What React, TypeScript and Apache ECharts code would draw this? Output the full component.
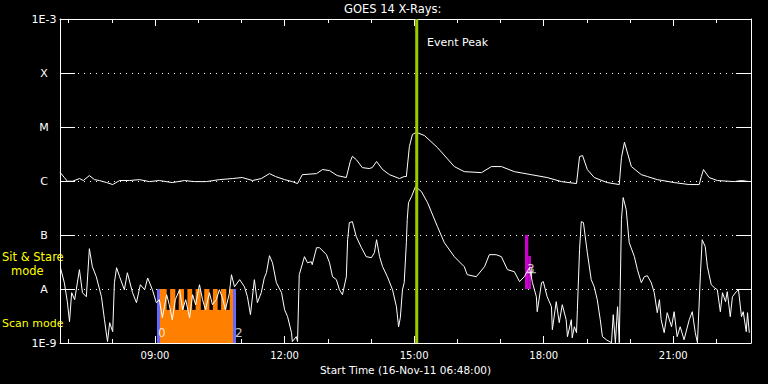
import React, { useEffect, useRef } from 'react';
import * as echarts from 'echarts';

// time axis in decimal hours of 16-Nov-2011
const startHour = 6.8;
const endHour = 22.8;
const majorHourTicks = [9, 12, 15, 18, 21];
const minorHourTicks = [7, 8, 10, 11, 13, 14, 16, 17, 19, 20, 22];
const yTickLabels = ['1E-9', 'A', 'B', 'C', 'M', 'X', '1E-3'];
const yMin = 1e-9;
const yMax = 1e-3;

// GOES 14 long channel (1-8 A), W/m^2
const longChannel: [number, number][] = [
  [6.80, 1.45e-6], [6.90, 1.16e-6], [6.97, 0.99e-6], [7.09, 0.99e-6], [7.25, 1.11e-6], [7.34, 1.02e-6],
  [7.48, 1.26e-6], [7.60, 1.06e-6], [7.71, 1.02e-6], [7.88, 9.35e-7], [8.02, 8.59e-7], [8.18, 1.02e-6],
  [8.41, 1.02e-6], [8.64, 1.06e-6], [8.87, 9.75e-7], [9.10, 1.02e-6], [9.40, 9.35e-7], [9.68, 1.02e-6],
  [9.91, 9.75e-7], [10.19, 9.75e-7], [10.49, 1.06e-6], [10.79, 1.11e-6], [11.02, 1.16e-6], [11.26, 1.02e-6],
  [11.46, 1.11e-6], [11.65, 1.37e-6], [11.79, 1.21e-6], [12.00, 1.06e-6], [12.18, 9.75e-7], [12.30, 8.96e-7],
  [12.41, 1.31e-6], [12.74, 1.37e-6], [12.88, 1.63e-6], [13.04, 1.56e-6], [13.22, 1.26e-6], [13.43, 1.16e-6],
  [13.52, 2.29e-6], [13.57, 2.87e-6], [13.66, 2.49e-6], [13.80, 1.77e-6], [13.96, 1.70e-6], [14.03, 1.77e-6],
  [14.13, 2.29e-6], [14.27, 1.63e-6], [14.43, 1.31e-6], [14.66, 1.11e-6], [14.77, 1.21e-6], [14.82, 1.21e-6],
  [14.89, 4.34e-6], [14.96, 7.24e-6], [15.05, 7.98e-6], [15.24, 6.94e-6], [15.54, 4.16e-6], [15.93, 1.85e-6],
  [16.16, 1.49e-6], [16.56, 1.43e-6], [16.79, 1.85e-6], [17.02, 1.85e-6], [17.32, 1.49e-6], [17.71, 1.31e-6],
  [18.08, 1.16e-6], [18.41, 9.75e-7], [18.76, 8.96e-7], [18.83, 2.83e-6], [18.90, 2.96e-6], [19.01, 1.63e-6],
  [19.17, 1.16e-6], [19.47, 9.35e-7], [19.75, 8.59e-7], [19.80, 2.71e-6], [19.87, 5.21e-6], [20.03, 1.85e-6],
  [20.26, 1.31e-6], [20.40, 1.21e-6], [20.63, 1.06e-6], [21.02, 9.35e-7], [21.37, 8.59e-7], [21.60, 8.59e-7],
  [21.65, 1.21e-6], [21.70, 1.63e-6], [21.83, 1.16e-6], [22.02, 1.02e-6], [22.41, 9.75e-7], [22.58, 1.02e-6],
  [22.76, 9.75e-7],
];

// GOES 14 short channel (0.5-4 A), W/m^2
const shortChannel: [number, number][] = [
  [6.81, 2.48e-8], [6.90, 1.31e-8], [6.97, 5.82e-9], [7.02, 2.48e-9], [7.07, 8.54e-9], [7.14, 6.34e-9],
  [7.25, 2.28e-8], [7.32, 8.54e-9], [7.41, 7.2e-9], [7.48, 5.58e-8], [7.55, 2.59e-8], [7.64, 1.69e-8],
  [7.76, 7.2e-9], [7.83, 2.7e-9], [7.90, 1.06e-9], [7.95, 2.38e-9], [8.02, 1.62e-9], [8.06, 1.31e-8],
  [8.11, 2.48e-8], [8.18, 1.69e-8], [8.29, 9.68e-9], [8.36, 2.0e-8], [8.48, 8.54e-9], [8.57, 5.58e-9],
  [8.66, 1.2e-8], [8.76, 9.68e-9], [8.83, 1.6e-8], [8.94, 9.68e-9], [9.03, 5.58e-9], [9.10, 6.34e-9],
  [9.17, 2.94e-9], [9.27, 7.85e-9], [9.33, 5.12e-9], [9.40, 2.7e-9], [9.47, 6.34e-9], [9.57, 9.68e-9],
  [9.64, 4.14e-9], [9.71, 6.34e-9], [9.80, 2.94e-9], [9.87, 7.85e-9], [9.94, 5.12e-9], [10.03, 1.2e-8],
  [10.10, 6.34e-9], [10.17, 4.14e-9], [10.26, 8.54e-9], [10.33, 5.12e-9], [10.42, 6.34e-9], [10.49, 9.68e-9],
  [10.56, 6.9e-9], [10.63, 4.14e-9], [10.72, 8.18e-9], [10.77, 1.84e-8], [10.84, 1.1e-8], [10.96, 1.49e-8],
  [11.07, 1.1e-8], [11.14, 7.2e-9], [11.21, 3.34e-9], [11.30, 1.49e-8], [11.37, 5.58e-9], [11.46, 8.54e-9],
  [11.53, 1.6e-8], [11.58, 2.0e-8], [11.65, 4.14e-8], [11.72, 3.07e-8], [11.81, 1.31e-8], [11.93, 8.54e-9],
  [12.00, 4.14e-9], [12.07, 3.07e-9], [12.16, 1.55e-9], [12.18, 1.06e-9], [12.27, 1.31e-9], [12.30, 1.06e-9],
  [12.34, 1.84e-8], [12.46, 3.97e-8], [12.53, 3.07e-8], [12.62, 3.2e-8], [12.64, 2.82e-8], [12.74, 5.82e-8],
  [12.81, 5.82e-8], [12.97, 4.32e-8], [13.04, 3.07e-8], [13.11, 1.69e-8], [13.20, 1.49e-8], [13.27, 9.68e-9],
  [13.34, 7.85e-9], [13.43, 1.69e-8], [13.46, 8.18e-8], [13.50, 1.7e-7], [13.57, 1.77e-7], [13.66, 9.3e-8],
  [13.78, 5.82e-8], [13.89, 3.97e-8], [14.01, 3.8e-8], [14.08, 4.7e-8], [14.13, 8.18e-8], [14.20, 3.97e-8],
  [14.27, 2.59e-8], [14.38, 1.69e-8], [14.50, 9.68e-9], [14.59, 4.7e-9], [14.64, 2.0e-9], [14.68, 2.94e-9],
  [14.73, 9.68e-9], [14.77, 1.31e-8], [14.82, 7.2e-8], [14.84, 1.93e-7], [14.87, 3.98e-7], [14.94, 5.15e-7],
  [15.03, 7.87e-7], [15.17, 6.36e-7], [15.31, 3.98e-7], [15.54, 1.43e-7], [15.70, 7.2e-8], [15.93, 3.97e-8],
  [16.16, 2.59e-8], [16.23, 1.84e-8], [16.44, 1.69e-8], [16.63, 2.59e-8], [16.74, 4.32e-8], [16.90, 4.32e-8],
  [17.02, 3.97e-8], [17.16, 2.28e-8], [17.32, 2.09e-8], [17.44, 1.37e-8], [17.55, 1.69e-8], [17.67, 2.48e-8],
  [17.74, 1.31e-8], [17.83, 7.2e-9], [17.85, 3.8e-9], [17.95, 1.31e-8], [17.99, 1.37e-8], [18.08, 7.2e-9],
  [18.18, 4.7e-9], [18.20, 1.76e-9], [18.29, 5.82e-9], [18.36, 2.38e-9], [18.43, 5.12e-9], [18.52, 2.7e-9],
  [18.55, 1.31e-9], [18.64, 2.7e-9], [18.66, 1.25e-9], [18.71, 2.0e-9], [18.76, 1.55e-9], [18.78, 4.14e-9],
  [18.83, 5.34e-8], [18.87, 1.77e-7], [18.92, 1.7e-7], [19.01, 4.7e-8], [19.10, 1.49e-8], [19.17, 1.1e-8],
  [19.24, 6.34e-9], [19.31, 2.7e-9], [19.36, 1.31e-9], [19.45, 1.15e-9], [19.57, 1.01e-9], [19.61, 3.34e-9],
  [19.66, 1.01e-9], [19.71, 4.7e-9], [19.75, 1.01e-9], [19.80, 1.93e-7], [19.84, 4.93e-7], [19.91, 2.95e-7],
  [19.98, 7.2e-8], [20.10, 3.97e-8], [20.17, 2.28e-8], [20.26, 1.31e-8], [20.33, 1.69e-8], [20.40, 1.76e-8],
  [20.49, 1.31e-8], [20.56, 8.54e-9], [20.63, 3.64e-9], [20.68, 6.34e-9], [20.72, 2.7e-9], [20.79, 1.55e-9],
  [20.86, 3.64e-9], [20.96, 2.0e-9], [21.02, 3.8e-9], [21.09, 1.31e-9], [21.16, 2.0e-9], [21.25, 1.15e-9],
  [21.37, 2.7e-9], [21.44, 3.8e-9], [21.51, 1.55e-9], [21.56, 1.01e-9], [21.63, 2.0e-8], [21.67, 8.18e-8],
  [21.74, 6.08e-8], [21.79, 2.59e-8], [21.88, 1.2e-8], [21.95, 1.06e-8], [22.02, 9.68e-9], [22.09, 3.8e-9],
  [22.14, 8.54e-9], [22.21, 5.82e-9], [22.25, 8.92e-9], [22.32, 3.07e-9], [22.37, 7.2e-9], [22.46, 8.92e-9],
  [22.51, 9.68e-9], [22.58, 3.07e-9], [22.62, 3.8e-9], [22.69, 1.62e-9], [22.72, 3.64e-9], [22.76, 1.55e-9],
];

const eventPeakTime = 15.06;
// scan mode block: [startHour, endHour, lowFlux, highFlux]
const scanModeBlock: [number, number, number, number] = [9.115, 10.806, 1e-9, 1e-8];
const scanModeEdges: [number, number, number, number][] = [
  [9.046, 9.115, 1e-9, 1e-8],
  [10.806, 10.875, 1e-9, 1e-8],
];
const scanGapStarts = [9.27, 9.47, 9.67, 9.86, 10.06, 10.26, 10.45, 10.65];
const scanGapWidth = 0.08;
const scanGapLow = 4.1e-9;
const sitStareBlocks: [number, number, number, number][] = [
  [17.566, 17.643, 1e-8, 1e-7],
  [17.643, 17.705, 1e-8, 4.1e-8],
];
const markerLabels: { name: string; t: number; flux: number }[] = [
  { name: '0', t: 9.16, flux: 1.55e-9 },
  { name: '2', t: 10.94, flux: 1.55e-9 },
  { name: '3', t: 17.7, flux: 2.3e-8 },
];
const markerCrosses: [number, number][] = [
  [17.72, 2.0e-8],
];

const FONT = 'DejaVu Sans';
const WHITE = '#ffffff';

export default function App() {
  const ref = useRef<HTMLDivElement>(null);

  useEffect(() => {
    if (!ref.current) return;
    const chart = echarts.init(ref.current, null, { renderer: 'svg' });

    const rects: any[] = [];
    rects.push({ value: scanModeBlock, itemStyle: { color: '#ff8000' } });
    scanGapStarts.forEach((s) => {
      rects.push({ value: [s, s + scanGapWidth, scanGapLow, 1e-8], itemStyle: { color: '#000000' } });
    });
    scanModeEdges.forEach((e) => rects.push({ value: e, itemStyle: { color: '#6868ff' } }));
    sitStareBlocks.forEach((b) => rects.push({ value: b, itemStyle: { color: '#cc00cc' } }));

    const xBase = {
      type: 'value',
      min: startHour,
      max: endHour,
      gridIndex: 0,
      splitLine: { show: false },
    };
    const axisLineStyle = { color: WHITE, width: 1 };

    const option: any = {
      animation: false,
      backgroundColor: '#000000',
      grid: { left: 60, top: 19, right: 17, bottom: 41, containLabel: false },
      xAxis: [
        {
          ...xBase,
          position: 'bottom',
          axisLine: { show: true, onZero: false, lineStyle: axisLineStyle },
          axisTick: { show: true, inside: true, length: 7, customValues: majorHourTicks, lineStyle: axisLineStyle },
          axisLabel: {
            show: true,
            customValues: majorHourTicks,
            formatter: (v: number) => `${String(Math.round(v)).padStart(2, '0')}:00`,
            color: WHITE,
            fontFamily: FONT,
            fontSize: 10,
            margin: 7,
          },
          name: 'Start Time (16-Nov-11 06:48:00)',
          nameLocation: 'middle',
          nameGap: 19,
          nameTextStyle: { color: WHITE, fontFamily: FONT, fontSize: 10.5 },
        },
        {
          ...xBase,
          position: 'bottom',
          axisLine: { show: false },
          axisTick: { show: true, inside: true, length: 4, customValues: minorHourTicks, lineStyle: axisLineStyle },
          axisLabel: { show: false },
        },
        {
          ...xBase,
          position: 'top',
          axisLine: { show: true, onZero: false, lineStyle: axisLineStyle },
          axisTick: { show: true, inside: true, length: 7, customValues: majorHourTicks, lineStyle: axisLineStyle },
          axisLabel: { show: false },
        },
        {
          ...xBase,
          position: 'top',
          axisLine: { show: false },
          axisTick: { show: true, inside: true, length: 4, customValues: minorHourTicks, lineStyle: axisLineStyle },
          axisLabel: { show: false },
        },
      ],
      yAxis: [
        {
          type: 'log',
          logBase: 10,
          min: yMin,
          max: yMax,
          position: 'left',
          axisLine: { show: true, onZero: false, lineStyle: axisLineStyle },
          axisTick: { show: true, inside: true, length: 15, lineStyle: axisLineStyle },
          axisLabel: {
            color: WHITE,
            fontFamily: FONT,
            fontSize: 11,
            align: 'center',
            margin: 16,
            formatter: (v: number) => {
              const e = Math.round(Math.log10(v));
              return yTickLabels[e + 9] ?? '';
            },
          },
          splitLine: { show: true, lineStyle: { color: WHITE, width: 1, type: [1, 5] } },
        },
        {
          type: 'log',
          logBase: 10,
          min: yMin,
          max: yMax,
          position: 'right',
          axisLine: { show: true, onZero: false, lineStyle: axisLineStyle },
          axisTick: { show: true, inside: true, length: 15, lineStyle: axisLineStyle },
          axisLabel: { show: false },
          splitLine: { show: false },
        },
      ],
      series: [
        {
          type: 'custom',
          name: 'modes',
          xAxisIndex: 0,
          yAxisIndex: 0,
          silent: true,
          z: 1,
          encode: { x: [0, 1], y: [2, 3] },
          renderItem: (params: any, api: any) => {
            const p0 = api.coord([api.value(0), api.value(3)]);
            const p1 = api.coord([api.value(1), api.value(2)]);
            return {
              type: 'rect',
              shape: { x: p0[0], y: p0[1], width: p1[0] - p0[0], height: p1[1] - p0[1] },
              style: { fill: api.visual('color') },
            };
          },
          data: rects,
        },
        {
          type: 'line',
          name: 'long',
          xAxisIndex: 0,
          yAxisIndex: 0,
          data: longChannel,
          showSymbol: false,
          symbol: 'none',
          lineStyle: { color: WHITE, width: 1 },
          itemStyle: { color: WHITE },
          z: 3,
        },
        {
          type: 'line',
          name: 'short',
          xAxisIndex: 0,
          yAxisIndex: 0,
          data: shortChannel,
          showSymbol: false,
          symbol: 'none',
          lineStyle: { color: WHITE, width: 1 },
          itemStyle: { color: WHITE },
          z: 3,
        },
        {
          type: 'line',
          name: 'peak',
          xAxisIndex: 0,
          yAxisIndex: 0,
          data: [[eventPeakTime, yMin], [eventPeakTime, yMax]],
          showSymbol: false,
          symbol: 'none',
          lineStyle: { color: '#9acd00', width: 3 },
          z: 5,
        },
        {
          type: 'scatter',
          name: 'markers',
          xAxisIndex: 0,
          yAxisIndex: 0,
          symbolSize: 1,
          itemStyle: { color: 'rgba(0,0,0,0)' },
          data: markerLabels.map((m) => ({ name: m.name, value: [m.t, m.flux] })),
          label: {
            show: true,
            position: 'inside',
            formatter: '{b}',
            color: WHITE,
            fontFamily: FONT,
            fontSize: 12,
          },
          z: 6,
        },
        {
          type: 'scatter',
          name: 'crosses',
          xAxisIndex: 0,
          yAxisIndex: 0,
          symbol: 'path://M0,5 L10,5 M5,0 L5,10',
          symbolSize: 9,
          itemStyle: { color: 'rgba(0,0,0,0)', borderColor: WHITE, borderWidth: 1 },
          data: markerCrosses,
          z: 6,
        },
      ],
      graphic: [
        {
          type: 'text',
          left: 344,
          top: 3,
          style: { text: 'GOES 14 X-Rays:', fill: WHITE, font: `11.5px "${FONT}"` },
        },
        {
          type: 'text',
          left: 427,
          top: 37,
          style: { text: 'Event Peak', fill: WHITE, font: `11px "${FONT}"` },
        },
        {
          type: 'text',
          left: 2,
          top: 251,
          style: { text: 'Sit & Stare', fill: '#ffff00', font: `11.5px "${FONT}"` },
        },
        {
          type: 'text',
          left: 11,
          top: 265,
          style: { text: 'mode', fill: '#ffff00', font: `11.5px "${FONT}"` },
        },
        {
          type: 'text',
          left: 2,
          top: 318,
          style: { text: 'Scan mode', fill: '#ffff00', font: `11px "${FONT}"` },
        },
      ],
    };

    chart.setOption(option);
    return () => chart.dispose();
  }, []);

  return (
    <div
      ref={ref}
      style={{ position: 'fixed', left: 0, top: 0, width: 768, height: 384, background: '#000' }}
    />
  );
}
